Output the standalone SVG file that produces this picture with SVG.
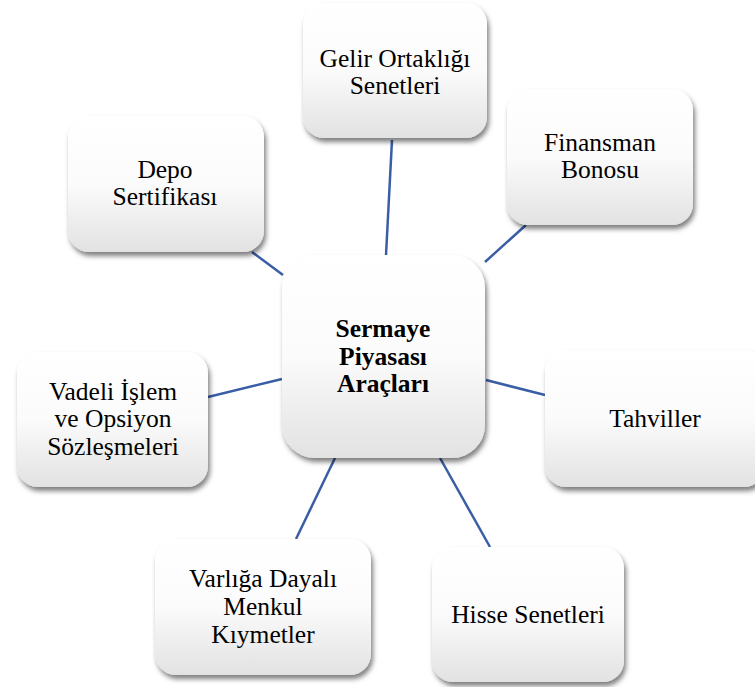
<svg xmlns="http://www.w3.org/2000/svg" width="755" height="687" viewBox="0 0 755 687">
  <defs>
    <linearGradient id="boxFill" x1="0" y1="0" x2="0" y2="1">
      <stop offset="0" stop-color="#ffffff"/>
      <stop offset="0.5" stop-color="#fbfbfb"/>
      <stop offset="1" stop-color="#e2e2e2"/>
    </linearGradient>
    <filter id="shadow" x="-10%" y="-10%" width="125%" height="130%">
      <feDropShadow dx="2" dy="4" stdDeviation="2.5" flood-color="#000" flood-opacity="0.5"/>
    </filter>
  </defs>
  <style>
    .box { fill: url(#boxFill); filter: url(#shadow); }
    .lbl { font-size: 25.5px; fill: #000; text-anchor: middle; }
    .hub { font-weight: bold; }
    .link { stroke: #3a5ea5; stroke-width: 2.5; fill: none; }
  </style>
  <rect width="755" height="687" fill="#ffffff"/>

  <g id="connectors">
    <line class="link" x1="392" y1="140" x2="386" y2="255"/>
    <line class="link" x1="526" y1="225" x2="485" y2="262"/>
    <line class="link" x1="252" y1="252" x2="283" y2="275"/>
    <line class="link" x1="208" y1="397" x2="282" y2="379"/>
    <line class="link" x1="486" y1="380" x2="545" y2="395"/>
    <line class="link" x1="335" y1="458" x2="296" y2="539"/>
    <line class="link" x1="440" y1="458" x2="490" y2="547"/>
  </g>

  <g font-family="Liberation Serif, Tinos, Times New Roman, serif">
    <g id="gelir-ortakligi">
      <rect class="box" x="303" y="3" width="184" height="135" rx="21"/>
      <text class="lbl" x="395" y="67">Gelir Ortaklığı</text>
      <text class="lbl" x="395" y="94">Senetleri</text>
    </g>

    <g id="finansman-bonosu">
      <rect class="box" x="507" y="89" width="186" height="136" rx="21"/>
      <text class="lbl" x="600" y="151">Finansman</text>
      <text class="lbl" x="600" y="178">Bonosu</text>
    </g>

    <g id="depo-sertifikasi">
      <rect class="box" x="68" y="116" width="196" height="136" rx="21"/>
      <text class="lbl" x="165" y="178">Depo</text>
      <text class="lbl" x="165" y="205">Sertifikası</text>
    </g>

    <g id="sermaye-piyasasi">
      <rect class="box" x="282" y="255" width="203" height="203" rx="33"/>
      <text class="lbl hub" x="383" y="337">Sermaye</text>
      <text class="lbl hub" x="383" y="365">Piyasası</text>
      <text class="lbl hub" x="383" y="392">Araçları</text>
    </g>

    <g id="vadeli-islem">
      <rect class="box" x="17" y="352" width="191" height="135" rx="21"/>
      <text class="lbl" x="113" y="400">Vadeli İşlem</text>
      <text class="lbl" x="113" y="427">ve Opsiyon</text>
      <text class="lbl" x="113" y="455">Sözleşmeleri</text>
    </g>

    <g id="tahviller">
      <rect class="box" x="545" y="350" width="220" height="137" rx="21"/>
      <text class="lbl" x="655" y="427">Tahviller</text>
    </g>

    <g id="varliga-dayali">
      <rect class="box" x="155" y="539" width="216" height="136" rx="21"/>
      <text class="lbl" x="263" y="587">Varlığa Dayalı</text>
      <text class="lbl" x="263" y="615">Menkul</text>
      <text class="lbl" x="263" y="643">Kıymetler</text>
    </g>

    <g id="hisse-senetleri">
      <rect class="box" x="432" y="547" width="192" height="135" rx="21"/>
      <text class="lbl" x="528" y="623">Hisse Senetleri</text>
    </g>
  </g>
</svg>
